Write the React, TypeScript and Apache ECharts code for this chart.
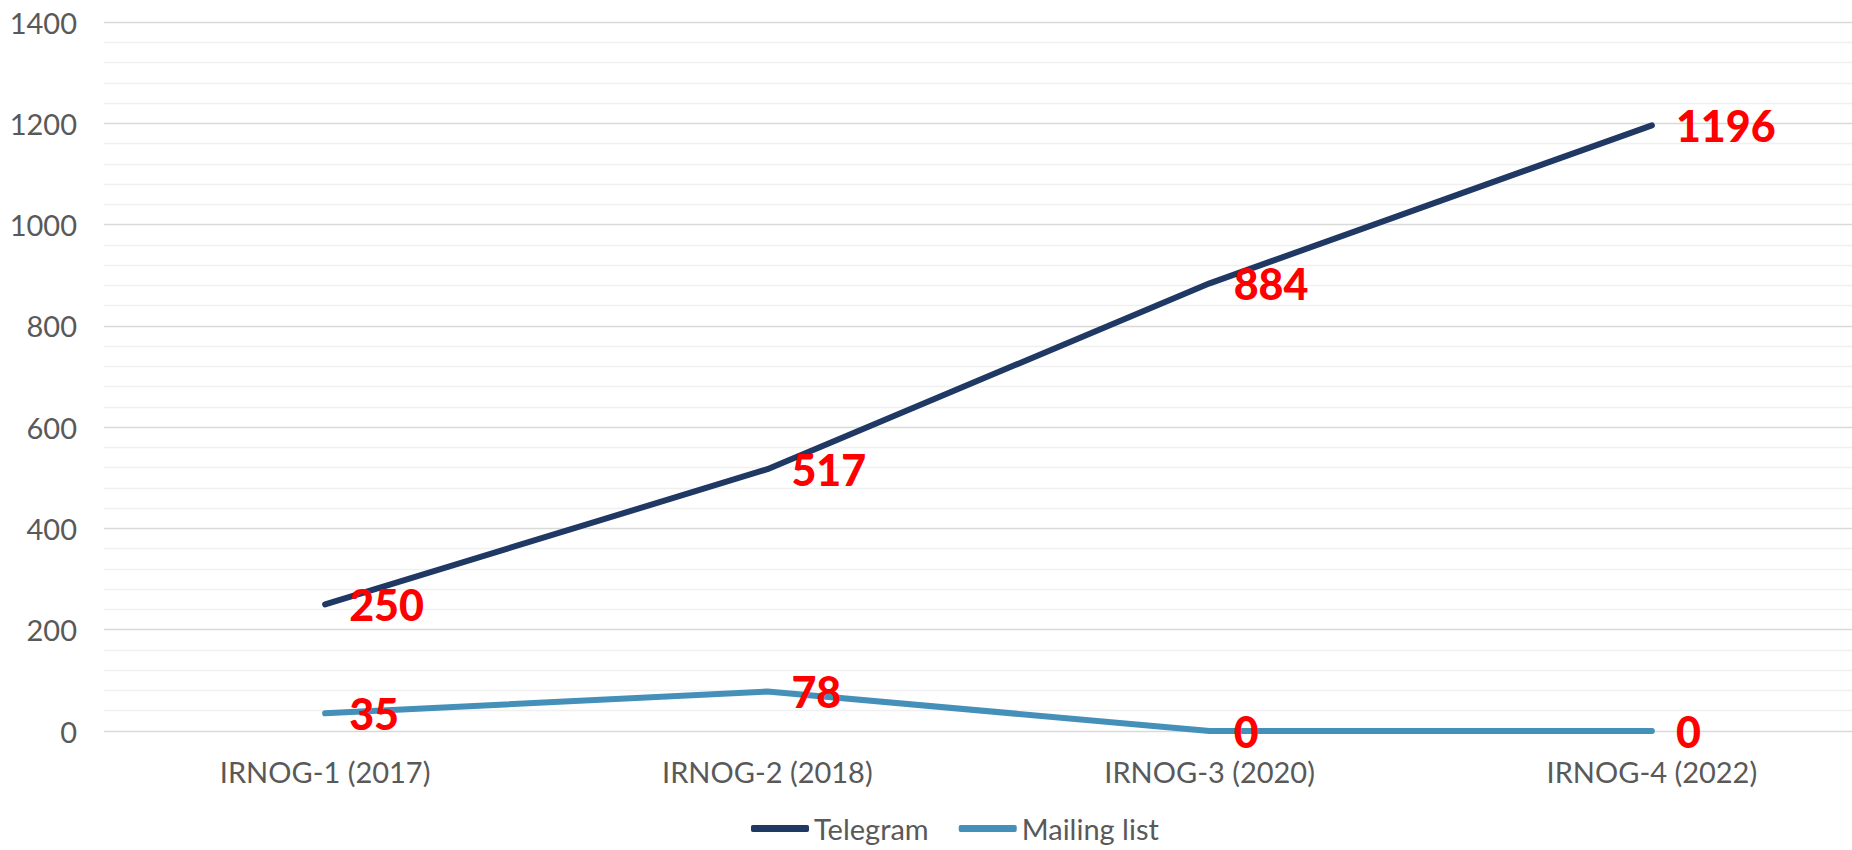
import React, { useEffect, useRef } from "react";
import * as echarts from "echarts";

const categories = ["IRNOG-1 (2017)", "IRNOG-2 (2018)", "IRNOG-3 (2020)", "IRNOG-4 (2022)"];
const telegram = [250, 517, 884, 1196];
const mailingList = [35, 78, 0, 0];
const seriesNames = ["Telegram", "Mailing list"];
const colors = ["#1f3864", "#4590b9"];

const FONT = "Lato, 'Noto Sans', sans-serif";
const TEXT = "#595959";

export default function App() {
  const ref = useRef<HTMLDivElement>(null);
  useEffect(() => {
    if (!ref.current) return;
    const chart = echarts.init(ref.current, undefined, { renderer: "svg" });
    const label = {
      show: true,
      position: "right" as const,
      distance: 24,
      color: "#ff0000",
      fontWeight: 900,
      fontSize: 43,
      fontFamily: FONT,
    };
    chart.setOption({
      animation: false,
      backgroundColor: "#ffffff",
      grid: { left: 104, top: 22, width: 1769, height: 709, containLabel: false, outerBoundsMode: "none" },
      legend: {
        bottom: 2,
        left: 746,
        icon: "roundRect",
        itemWidth: 58,
        itemHeight: 7,
        itemGap: 30,
        textStyle: { color: TEXT, fontSize: 29, fontFamily: FONT },
        data: seriesNames.map((n, i) => ({ name: n, itemStyle: { color: colors[i] } })),
      },
      xAxis: {
        type: "category",
        data: categories,
        boundaryGap: true,
        axisLine: { show: false },
        axisTick: { show: false },
        axisLabel: { color: TEXT, fontSize: 29, fontFamily: FONT, margin: 26 },
        splitLine: { show: false },
      },
      yAxis: {
        type: "value",
        min: 0,
        max: 1400,
        interval: 200,
        axisLine: { show: false },
        axisTick: { show: false },
        axisLabel: {
          color: TEXT,
          fontSize: 29,
          fontFamily: FONT,
          margin: 27,
          formatter: (v: number) => String(v),
        },
        splitLine: { show: true, lineStyle: { color: "#d9d9d9", width: 1.3 } },
        minorTick: { show: false, splitNumber: 5 },
        minorSplitLine: { show: true, lineStyle: { color: "#f0f0f0", width: 1.3 } },
      },
      series: seriesNames.map((name, i) => ({
        name,
        type: "line",
        data: i === 0 ? telegram : mailingList,
        symbol: "circle",
        symbolSize: 0,
        showSymbol: true,
        lineStyle: { color: colors[i], width: 6, cap: "round", join: "round" },
        itemStyle: { color: colors[i] },
        label,
      })),
    });
    return () => chart.dispose();
  }, []);
  return (
    <div
      ref={ref}
      style={{ position: "fixed", left: 0, top: 0, width: 1852, height: 850, background: "#fff" }}
    />
  );
}
